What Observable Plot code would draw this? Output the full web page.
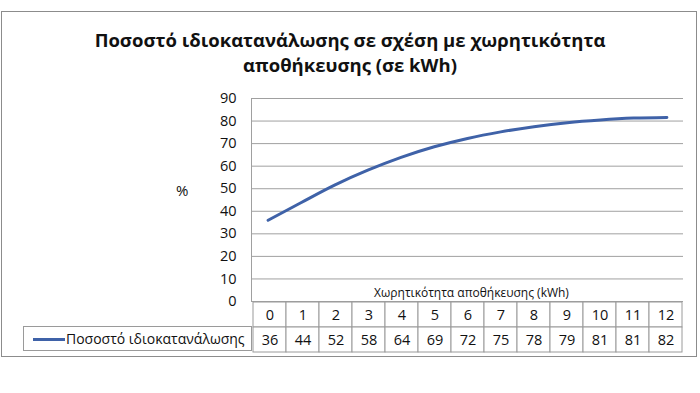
<!DOCTYPE html>
<html>
<head>
<meta charset="utf-8">
<script src="https://cdn.jsdelivr.net/npm/d3@7"></script>
<script src="https://cdn.jsdelivr.net/npm/@observablehq/plot@0.6"></script>
<style>
  html, body { margin: 0; padding: 0; background: #fff; }
  #wrap { position: relative; width: 700px; height: 393px; overflow: hidden; font-family: "Open Sans", "Noto Sans", sans-serif; }
  #box { position: absolute; left: 1px; top: 11px; width: 696px; height: 346px; border: 1px solid #8c8c8c; box-sizing: border-box; }
  #title { position: absolute; left: 0; width: 700px; top: 27px; text-align: center; font-weight: 700; font-size: 18.5px; line-height: 25px; color: #111; }
  #pct { position: absolute; left: 176px; top: 180px; font-size: 15px; color: #111; }
  .abs { position: absolute; left: 0; top: 0; }
  #legend { position: absolute; left: 23px; top: 326px; width: 229px; height: 25px; border: 1px solid #9a9a9a; box-sizing: border-box; font-size: 14px; line-height: 23px; color: #111; white-space: nowrap; }
  #legend .sw { display: inline-block; width: 32px; height: 3px; background: #3F62A8; vertical-align: middle; margin-left: 9px; margin-right: 1px; position: relative; top: -1px; }
</style>
</head>
<body>
<div id="wrap">
  <div id="box"></div>
  <div id="title">Ποσοστό ιδιοκατανάλωσης σε σχέση με χωρητικότητα<br>αποθήκευσης (σε kWh)</div>
  <div id="pct">%</div>
  <div id="main" class="abs"></div>
  <div id="table" class="abs" style="top:301px"></div>
  <div id="legend"><span class="sw"></span><span id="legname"></span></div>
</div>
<script>
// Storage capacity categories (kWh)
const capacities = [0, 1, 2, 3, 4, 5, 6, 7, 8, 9, 10, 11, 12];
// Values as printed in the data table (rounded)
const tableValues = [36, 44, 52, 58, 64, 69, 72, 75, 78, 79, 81, 81, 82];
// Values (unrounded estimates)
const lineValues = [36.0, 43.9, 51.6, 58.2, 63.9, 68.6, 72.3, 75.2, 77.5, 79.3, 80.5, 81.3, 81.6];
const yTicks = [0, 10, 20, 30, 40, 50, 60, 70, 80, 90];
const seriesName = "Ποσοστό ιδιοκατανάλωσης";
const xTitle = "Χωρητικότητα αποθήκευσης (kWh)";

const data = capacities.map((c, i) => ({cap: c, pct: lineValues[i]}));
const lineColor = "#3F62A8";
const gridColor = "#a0a0a0";
const font = '"Open Sans", "Noto Sans", sans-serif';

const main = Plot.plot({
  width: 700,
  height: 393,
  marginLeft: 251,
  marginRight: 17,
  marginTop: 98,
  marginBottom: 92,
  style: {background: "transparent", fontFamily: font, color: "#111"},
  x: {domain: [-0.5, 12.5], axis: null},
  y: {domain: [0, 90], ticks: yTicks},
  marks: [
    Plot.gridY(yTicks, {stroke: gridColor, strokeOpacity: 1, strokeWidth: 1}),
    Plot.ruleX([-0.5], {y1: 0, y2: 90, stroke: gridColor, strokeWidth: 1}),
    Plot.axisY(yTicks, {tickSize: 0, tickPadding: 15, fontSize: 14.5, label: null, fill: "#111"}),
    Plot.text([xTitle], {frameAnchor: "bottom", dy: -5, dx: 4, fontSize: 12, fill: "#111", textAnchor: "middle", lineAnchor: "bottom"}),
    Plot.line(data, {x: "cap", y: "pct", stroke: lineColor, strokeWidth: 3, curve: "catmull-rom"})
  ]
});
document.getElementById("main").appendChild(main);

const rows = ["cap", "pct"];
const cells = [];
capacities.forEach((c, i) => {
  cells.push({col: String(c), row: "cap", label: String(c)});
  cells.push({col: String(c), row: "pct", label: String(tableValues[i])});
});

const table = Plot.plot({
  width: 700,
  height: 52,
  marginLeft: 251,
  marginRight: 17,
  marginTop: 0.5,
  marginBottom: 1.5,
  style: {background: "transparent", fontFamily: font, color: "#111"},
  x: {type: "band", domain: capacities.map(String), padding: 0, axis: null},
  y: {type: "band", domain: rows, padding: 0, axis: null},
  marks: [
    Plot.cell(cells, {x: "col", y: "row", fill: "white", stroke: "#9a9a9a", strokeWidth: 1}),
    Plot.text(cells, {x: "col", y: "row", text: "label", fontSize: 14.5, fill: "#111"})
  ]
});
document.getElementById("table").appendChild(table);
document.getElementById("legname").textContent = seriesName;
</script>
</body>
</html>
